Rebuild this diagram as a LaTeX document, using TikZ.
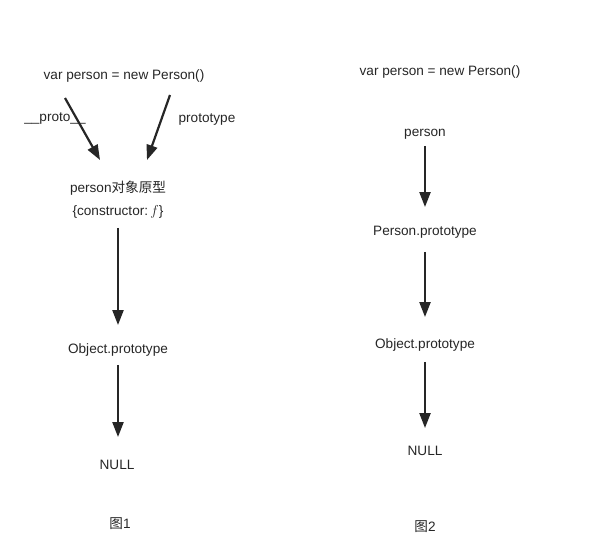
\documentclass[tikz,border=0pt]{standalone}
\usepackage{fontspec}
\setmainfont{Liberation Sans}
\newfontfamily\cjk{Noto Sans CJK SC}
\usetikzlibrary{arrows.meta}

\tikzset{
  lbl/.style={inner sep=0pt, text height=11pt, text depth=0.5pt, font=\fontsize{13.6}{15}\selectfont, text=black!85},
  link/.style={line width=2.2pt, draw=black!85, -{Triangle[width=11pt,length=15pt]}}
}

\begin{document}
\begin{tikzpicture}[x=1pt,y=-1pt]
	\useasboundingbox (0,0) rectangle (604,559);

	% 图1
	\node[lbl] (newL) at (124, 74) {var person = new Person()};
	\node[lbl] (protoL) at (55, 116) {\_\_proto\_\_};
	\node[lbl] (protoR) at (207, 117) {prototype};
	\node[lbl] (objL) at (118, 187) {person{\cjk 对象原型}};
	\node[lbl] (ctorL) at (118, 210) {\{constructor:\,$f$\}};
	\node[lbl] (ObjL) at (118, 348) {Object.prototype};
	\node[lbl] (nullL) at (117, 464) {NULL};
	\node[lbl] (capL) at (120, 523) {{\cjk 图}1};

	\coordinate (p1s) at (65, 98);
	\coordinate (p1e) at (100, 160);
	\coordinate (p2s) at (170, 95);
	\coordinate (p2e) at (147, 160);

	% 线を引く
	\draw[link] (p1s) -- (p1e);
	\draw[link] (p2s) -- (p2e);
	\draw[link, shorten <=12pt, shorten >=17pt] (ctorL.south) -- (ObjL.north);
	\draw[link, shorten <=11pt, shorten >=21pt] (ObjL.south) -- (nullL.north -| ObjL.south);

	% 图2
	\node[lbl] (newR) at (440, 70) {var person = new Person()};
	\node[lbl] (perR) at (425, 131) {person};
	\node[lbl] (PerR) at (425, 230) {Person.prototype};
	\node[lbl] (ObjR) at (425, 343) {Object.prototype};
	\node[lbl] (nullR) at (425, 450) {NULL};
	\node[lbl] (capR) at (425, 526) {{\cjk 图}2};

	\draw[link, shorten <=9pt, shorten >=17pt] (perR) -- (PerR);
	\draw[link, shorten <=16pt, shorten >=20pt] (PerR) -- (ObjR);
	\draw[link, shorten <=13pt, shorten >=16pt] (ObjR) -- (nullR);
\end{tikzpicture}
\end{document}
